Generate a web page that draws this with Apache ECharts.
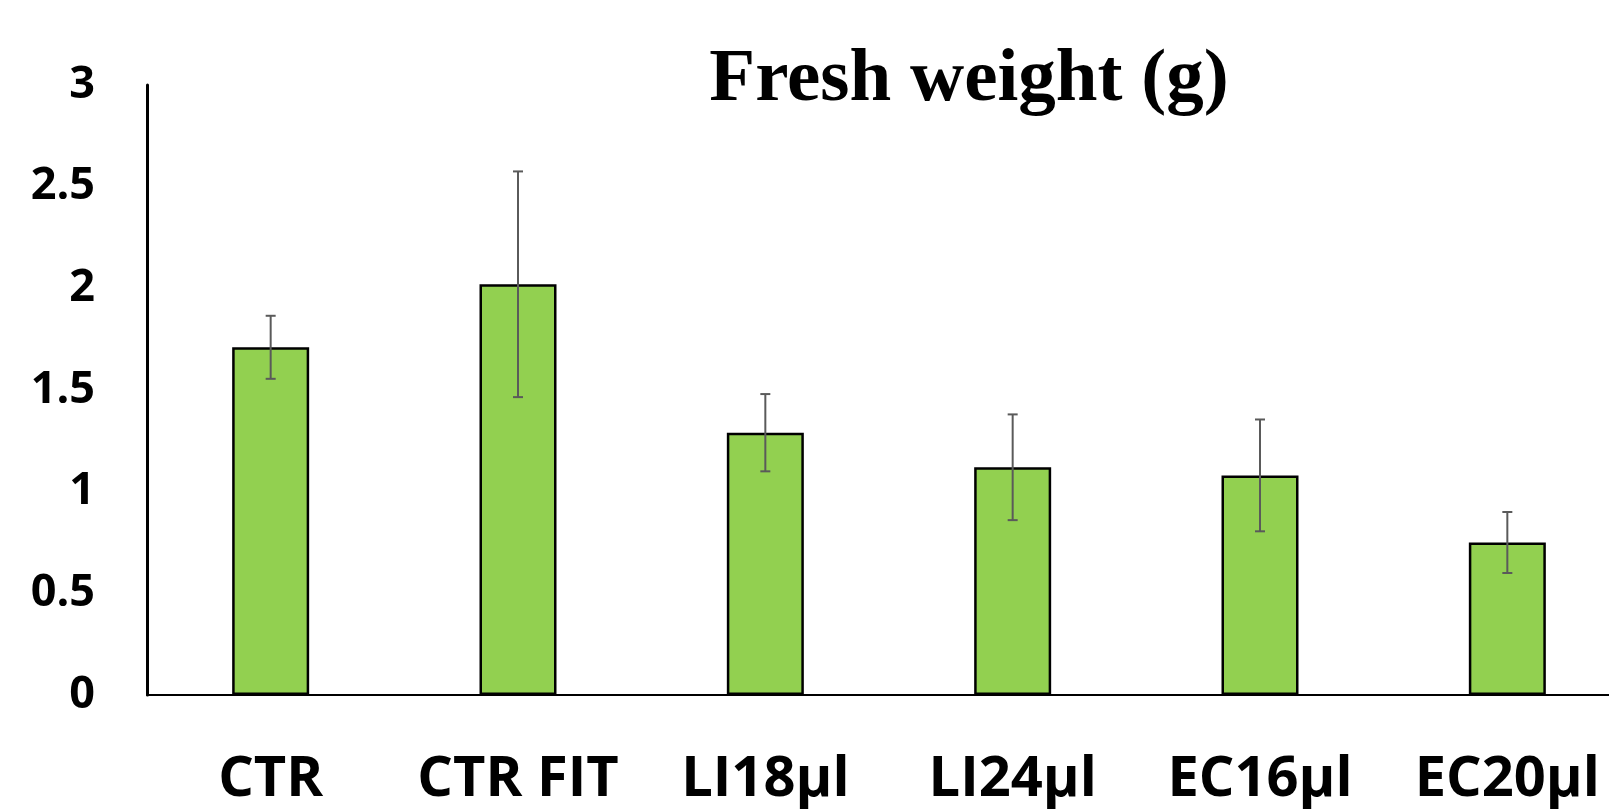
<!DOCTYPE html>
<html>
<head>
<meta charset="utf-8">
<script src="https://cdn.jsdelivr.net/npm/echarts@6/dist/echarts.min.js"></script>
<style>
html,body{margin:0;padding:0;background:#fff;}
#chart{width:1609px;height:810px;}
</style>
</head>
<body>
<div id="chart"></div>
<script>
var categories = ['CTR', 'CTR FIT', 'LI18\u03bcl', 'LI24\u03bcl', 'EC16\u03bcl', 'EC20\u03bcl'];
var freshWeight = [1.71, 2.02, 1.29, 1.12, 1.08, 0.75];
var errors = [0.155, 0.555, 0.19, 0.26, 0.275, 0.15];
var titleText = 'Fresh weight (g)';

var errData = categories.map(function (c, i) {
  return [i, freshWeight[i] - errors[i], freshWeight[i] + errors[i]];
});

var chart = echarts.init(document.getElementById('chart'));
chart.setOption({
  animation: false,
  backgroundColor: '#ffffff',
  title: {
    text: titleText,
    left: 964,
    top: 38,
    textAlign: 'center',
    textStyle: {
      fontFamily: '"Liberation Serif", "DejaVu Serif", serif',
      fontWeight: 'bold',
      fontSize: 75,
      color: '#000'
    }
  },
  grid: {
    left: 147,
    top: 85,
    width: 1484,
    height: 610,
    containLabel: false,
    outerBoundsMode: 'none'
  },
  xAxis: {
    type: 'category',
    data: categories,
    axisLine: { show: true, lineStyle: { color: '#000', width: 2 } },
    axisTick: { show: false },
    axisLabel: {
      margin: 57,
      fontFamily: '"Open Sans", sans-serif',
      fontWeight: 'bold',
      fontSize: 56,
      color: '#000',
      interval: 0
    },
    splitLine: { show: false }
  },
  yAxis: {
    type: 'value',
    min: 0,
    max: 3,
    interval: 0.5,
    axisLine: { show: true, lineStyle: { color: '#000', width: 3 } },
    axisTick: { show: false },
    splitLine: { show: false },
    axisLabel: {
      margin: 52,
      fontFamily: '"Open Sans", sans-serif',
      fontWeight: 'bold',
      fontSize: 45,
      color: '#000'
    }
  },
  series: [
    {
      type: 'bar',
      data: freshWeight,
      barWidth: 77,
      itemStyle: { color: '#92D050', borderColor: '#000', borderWidth: 2.5 }
    },
    {
      type: 'custom',
      data: errData,
      encode: { x: 0, y: [1, 2] },
      z: 10,
      renderItem: function (params, api) {
        var x = api.value(0);
        var lo = api.coord([x, api.value(1)]);
        var hi = api.coord([x, api.value(2)]);
        var hw = 5;
        var style = { stroke: '#5a5a5a', lineWidth: 2, fill: null };
        return {
          type: 'group',
          children: [
            { type: 'line', shape: { x1: lo[0], y1: lo[1], x2: hi[0], y2: hi[1] }, style: style },
            { type: 'line', shape: { x1: hi[0] - hw, y1: hi[1], x2: hi[0] + hw, y2: hi[1] }, style: style },
            { type: 'line', shape: { x1: lo[0] - hw, y1: lo[1], x2: lo[0] + hw, y2: lo[1] }, style: style }
          ]
        };
      }
    }
  ]
});
</script>
</body>
</html>
